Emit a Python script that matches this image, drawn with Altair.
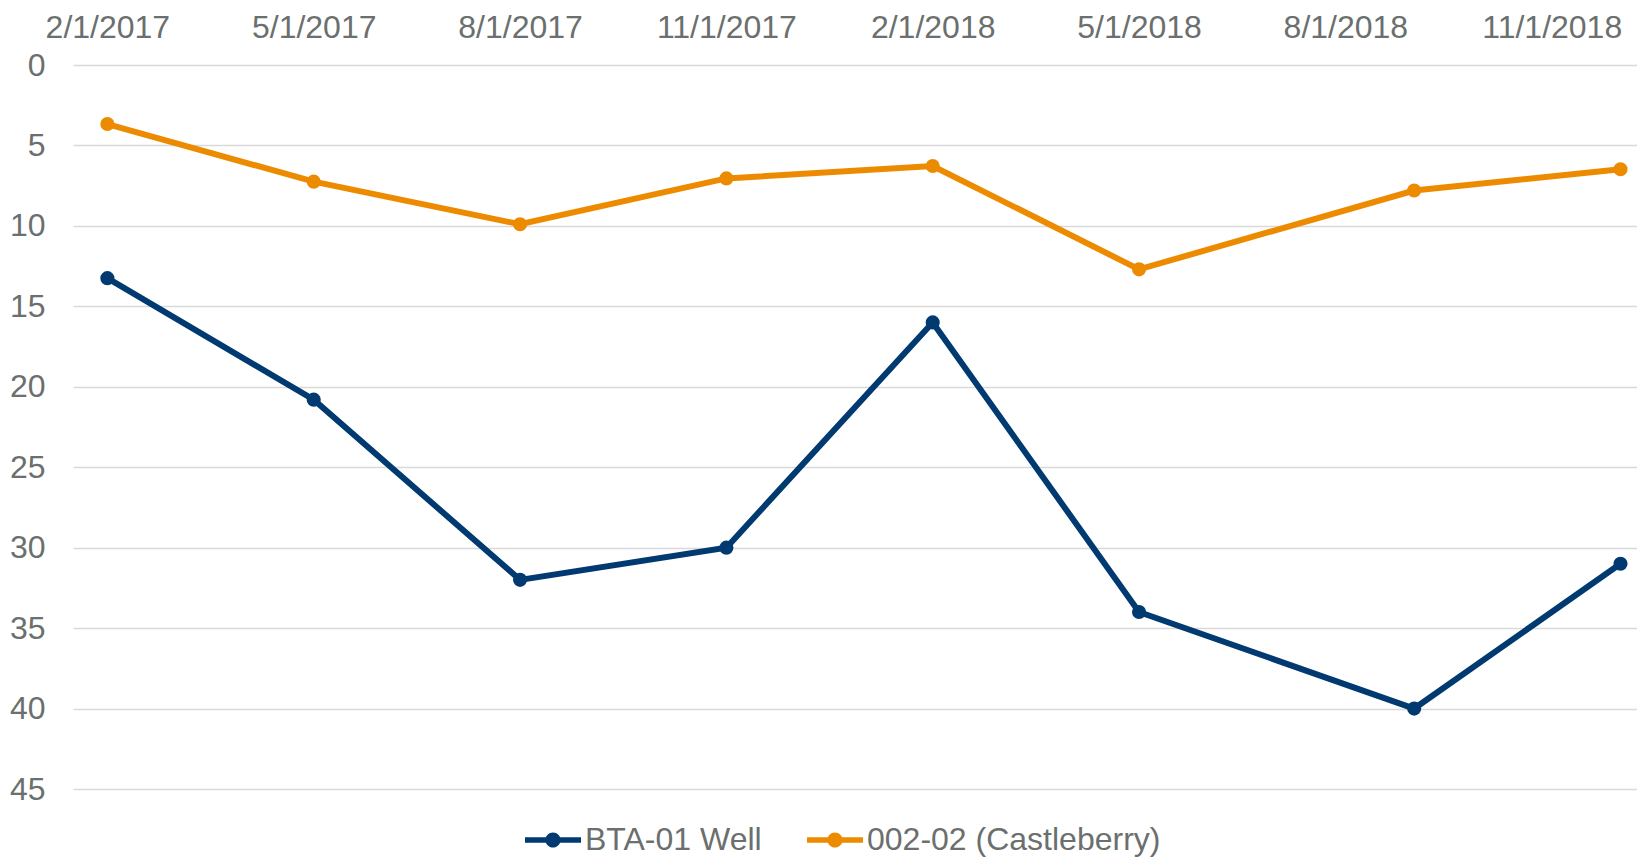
import altair as alt
import pandas as pd

# ---- data ----
dates = ["2017-02-01", "2017-05-01", "2017-08-01", "2017-11-01",
         "2018-02-01", "2018-05-01", "2018-09-01", "2018-12-01"]
bta_01_well = [13.25, 20.8, 32.0, 30.0, 16.0, 34.0, 40.0, 31.0]
castleberry = [3.67, 7.25, 9.9, 7.05, 6.28, 12.7, 7.8, 6.48]
series_names = ["BTA-01 Well", "002-02 (Castleberry)"]
series_colors = ["#003A70", "#ED8B00"]
# month-axis ticks (Excel date axis, base unit = months), counted from Feb 2017
x_tick_months = [0, 3, 6, 9, 12, 15, 18, 21]
y_ticks = [0, 5, 10, 15, 20, 25, 30, 35, 40, 45]

rows = []
for d, v in zip(dates, bta_01_well):
    rows.append({"date": d, "value": v, "series": series_names[0]})
for d, v in zip(dates, castleberry):
    rows.append({"date": d, "value": v, "series": series_names[1]})
df = pd.DataFrame(rows)

TEXT = "#6B6F6E"
FONT = "Liberation Sans"
FS = 32

month_calc = "(utcyear(toDate(datum.date)) - 2017) * 12 + utcmonth(toDate(datum.date)) - 1"
label_expr = ("(((datum.value + 1) % 12) + 1) + '/1/' + "
              "(2017 + floor((datum.value + 1) / 12))")

x_enc = alt.X(
    "m:Q",
    scale=alt.Scale(domain=[-0.5, 22.24], nice=False, zero=False),
    axis=alt.Axis(
        orient="top",
        values=x_tick_months,
        labelExpr=label_expr,
        labelAngle=0,
        ticks=False,
        tickSize=0,
        domain=False,
        grid=False,
        labelBaseline="alphabetic",
        labelPadding=28,
        labelFontSize=FS,
        labelFont=FONT,
        labelColor=TEXT,
        labelFlush=False,
        labelOverlap=False,
        title=None,
    ),
)
y_enc = alt.Y(
    "value:Q",
    scale=alt.Scale(domain=[0, 45], reverse=True, nice=False, zero=False),
    axis=alt.Axis(
        values=y_ticks,
        ticks=False,
        domain=False,
        grid=True,
        gridColor="#D9D9D9",
        gridWidth=1.6,
        labelPadding=28,
        labelFontSize=FS,
        labelFont=FONT,
        labelColor=TEXT,
        title=None,
    ),
)
color_scale = alt.Scale(domain=series_names, range=series_colors)

legend_symbol = ("M-1,-0.1L1,-0.1L1,0.1L-1,0.1Z "
                 "M0.27,0A0.27,0.27 0 1,1 -0.27,0A0.27,0.27 0 1,1 0.27,0Z")
legend = alt.Legend(
    orient="none", direction="horizontal",
    legendX=452, legendY=747,
    title=None, padding=0,
    symbolType=legend_symbol, symbolSize=3136,
    symbolStrokeWidth=0, symbolOpacity=1,
    labelFontSize=FS, labelFont=FONT, labelColor=TEXT,
    labelLimit=0,
    labelOffset=4, columnPadding=45,
)
color_enc = alt.Color("series:N", scale=color_scale, sort=series_names, legend=legend)

base = alt.Chart(df).transform_calculate(m=month_calc)
lines = base.mark_line(strokeWidth=6).encode(x=x_enc, y=y_enc, color=color_enc)
points = base.mark_point(filled=True, size=200, opacity=1).encode(
    x=x_enc, y=y_enc, color=color_enc)

chart = alt.layer(lines, points).properties(
    width=1564, height=724,
    autosize=alt.AutoSizeParams(type="none"),
    padding={"left": 65, "top": 57, "right": 0, "bottom": 68},
    background="white",
).configure_view(stroke=None)

chart.save("out.html", embed_options={"renderer": "svg", "actions": False})
